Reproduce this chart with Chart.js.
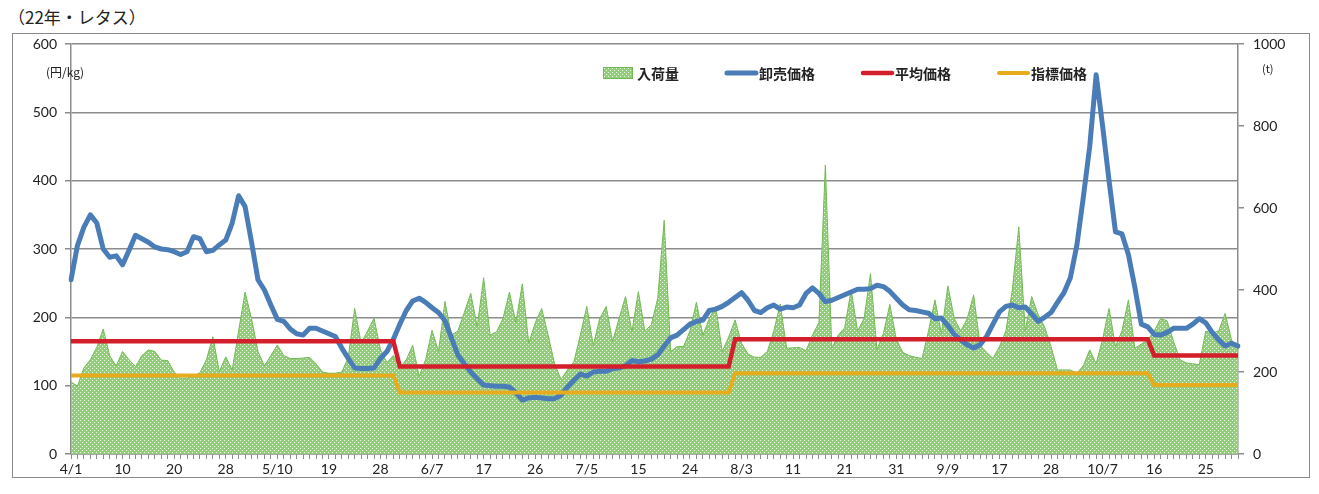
<!DOCTYPE html>
<html lang="ja">
<head>
<meta charset="utf-8">
<script src="https://cdn.jsdelivr.net/npm/chart.js@4.4.1/dist/chart.umd.min.js"></script>
<style>
  html, body { margin: 0; padding: 0; background: #fff; }
  #wrap { position: relative; width: 1319px; height: 494px; overflow: hidden; }
  #frame { position: absolute; left: 12px; top: 33px; width: 1296px; height: 443px; border: 1.5px solid #8a8a8a; }
  .lbl { position: absolute; font-family: "Noto Sans CJK JP", sans-serif; color: #222; white-space: nowrap; }
  #title { left: 8px; top: 4px; font-size: 17px; }
  #unitL { left: 46px; top: 63px; font-size: 12px; }
  #unitR { left: 1262px; top: 60px; font-size: 11px; }
  canvas { position: absolute; left: 0; top: 0; }
</style>
</head>
<body>
<div id="wrap">
  <div id="frame"></div>
  <div class="lbl" id="title">（22年・レタス）</div>
  <canvas id="chart" width="1319" height="494"></canvas>
  <div class="lbl" id="unitL">(円/kg)</div>
  <div class="lbl" id="unitR">(t)</div>
</div>
<script>
// tick labels, one every 8 market days
const tickLabels = ['4/1', '10', '20', '28', '5/10', '19', '28', '6/7', '17', '26', '7/5', '15',
    '24', '8/3', '11', '21', '31', '9/9', '17', '28', '10/7', '16', '25'];
const daysPerTick = 8;

// 入荷量 (t), right axis
const volume = [
    176, 165, 210, 230, 260, 305, 240, 215,
    250, 230, 213, 240, 254, 250, 229, 228,
    200, 185, 185, 190, 198, 230, 286, 201,
    237, 205, 300, 395, 330, 250, 215, 240,
    266, 240, 233, 233, 234, 236, 220, 200,
    197, 197, 200, 235, 355, 270, 300, 331,
    254, 223, 240, 210, 230, 265, 189, 230,
    302, 250, 372, 290, 300, 345, 392, 310,
    430, 290, 298, 330, 395, 320, 415, 270,
    320, 355, 290, 220, 182, 205, 225, 290,
    360, 265, 330, 360, 275, 330, 384, 298,
    396, 300, 315, 380, 570, 250, 262, 262,
    300, 370, 290, 330, 360, 250, 285, 327,
    270, 244, 236, 236, 250, 300, 366, 258,
    259, 260, 252, 290, 320, 705, 258, 290,
    308, 400, 300, 330, 440, 254, 294, 365,
    280, 248, 240, 236, 233, 300, 376, 294,
    410, 330, 300, 330, 388, 265, 248, 233,
    262, 300, 400, 554, 300, 384, 340, 310,
    262, 205, 205, 205, 197, 215, 254, 220,
    280, 355, 262, 300, 376, 258, 268, 278,
    300, 330, 325, 275, 230, 222, 220, 218,
    300, 295, 300, 343, 278, 254
];

// 卸売価格 (円/kg)
const wholesalePrice = [
    255, 305, 332, 350, 338, 300, 288, 290,
    277, 298, 320, 315, 310, 303, 300, 299,
    296, 292, 296, 318, 315, 296, 298, 306,
    313, 338, 378, 362, 310, 255, 240, 218,
    197, 194, 183, 176, 174, 184, 184, 180,
    176, 172, 155, 140, 126, 125, 125, 126,
    140, 150, 168, 190, 210, 224, 228, 222,
    214, 207, 195, 170, 145, 132, 120, 110,
    101, 100, 99, 99, 98, 90, 79, 82,
    83, 82, 81, 81, 86, 98, 108, 117,
    114, 120, 121, 121, 125, 126, 129, 137,
    135, 136, 139, 145, 158, 170, 174, 182,
    190, 194, 196, 210, 212, 216, 222, 229,
    236, 225, 210, 207, 214, 218, 212, 215,
    214, 218, 235, 243, 235, 223, 225, 229,
    233, 237, 241, 241, 242, 247, 245, 238,
    228, 218, 211, 210, 208, 206, 198, 199,
    188, 175, 167, 160, 155, 160, 172, 190,
    208, 216, 218, 214, 215, 205, 194, 200,
    207, 222, 236, 258, 305, 375, 450, 555,
    480, 400, 325, 322, 292, 244, 190, 186,
    175, 174, 178, 184, 184, 184, 190, 198,
    192, 178, 167, 158, 162, 158
];

// 平均価格 / 指標価格: value per period, period starts at the given day index
const periodStart = [0, 51, 103, 168];
const averagePrice = [165, 128, 168, 144];
const indexPrice = [115, 90, 118, 101];

const categories = volume.map((_, i) => i % daysPerTick === 0 ? tickLabels[i / daysPerTick] : '');

function expandPeriods(values) {
    return volume.map((_, i) => {
        let k = 0;
        while (k + 1 < periodStart.length && i >= periodStart[k + 1]) k++;
        return values[k];
    });
}

// dotted green fill like the printed chart
function makeDots() {
    const c = document.createElement('canvas');
    c.width = 4; c.height = 4;
    const g = c.getContext('2d');
    g.fillStyle = '#93cd7b';
    g.fillRect(0, 0, 4, 4);
    g.fillStyle = '#eef8e8';
    g.fillRect(0, 0, 1, 1);
    g.fillRect(2, 2, 1, 1);
    return g.createPattern(c, 'repeat');
}
const dots = makeDots();

const numFont = { family: 'Lato, "Noto Sans", sans-serif', size: 14 };
const gridGray = '#8c8c8c';

const insideLegend = {
    id: 'insideLegend',
    afterDraw(chart) {
        const ctx = chart.ctx;
        ctx.save();
        ctx.font = 'bold 14px "Noto Sans CJK JP", sans-serif';
        ctx.textBaseline = 'middle';
        let x = 603;
        const y = 73;
        chart.data.datasets.forEach(ds => {
            if (ds.fill) {
                ctx.fillStyle = ds.backgroundColor;
                ctx.fillRect(x, y - 6, 30, 12);
                ctx.strokeStyle = ds.borderColor;
                ctx.lineWidth = 1;
                ctx.strokeRect(x + 0.5, y - 5.5, 29, 11);
            } else {
                ctx.strokeStyle = ds.borderColor;
                ctx.lineWidth = ds.borderWidth;
                ctx.lineCap = 'round';
                ctx.beginPath();
                ctx.moveTo(x + 2, y);
                ctx.lineTo(x + 31, y);
                ctx.stroke();
            }
            ctx.fillStyle = '#222';
            ctx.fillText(ds.label, x + 34, y + 1);
            x += 34 + ctx.measureText(ds.label).width + 46;
        });
        ctx.restore();
    }
};

const ctx = document.getElementById('chart').getContext('2d');
new Chart(ctx, {
    type: 'line',
    data: {
        labels: categories,
        datasets: [
            {
                label: '入荷量',
                data: volume,
                yAxisID: 'y1',
                fill: 'origin',
                backgroundColor: dots,
                borderColor: '#74ba57',
                borderWidth: 1,
                pointRadius: 0,
                tension: 0,
                order: 4
            },
            {
                label: '卸売価格',
                data: wholesalePrice,
                yAxisID: 'y',
                borderColor: '#4a7db8',
                borderWidth: 5,
                borderJoinStyle: 'round',
                borderCapStyle: 'round',
                pointRadius: 0,
                tension: 0,
                fill: false,
                order: 3
            },
            {
                label: '平均価格',
                data: expandPeriods(averagePrice),
                yAxisID: 'y',
                borderColor: '#d21f2b',
                borderWidth: 4.5,
                pointRadius: 0,
                tension: 0,
                fill: false,
                order: 2
            },
            {
                label: '指標価格',
                data: expandPeriods(indexPrice),
                yAxisID: 'y',
                borderColor: '#e6ac1e',
                borderWidth: 4,
                pointRadius: 0,
                tension: 0,
                fill: false,
                order: 1
            }
        ]
    },
    options: {
        responsive: false,
        animation: false,
        layout: { padding: { top: 44, left: 0, right: 0, bottom: 0 } },
        plugins: {
            legend: { display: false },
            title: { display: false },
            tooltip: { enabled: false }
        },
        scales: {
            x: {
                type: 'category',
                offset: false,
                grid: { drawOnChartArea: false, drawTicks: true, tickLength: 5, color: gridGray, lineWidth: 1 },
                border: { display: true, color: gridGray, width: 1.5 },
                ticks: { autoSkip: false, maxRotation: 0, minRotation: 0, font: numFont, color: '#222', padding: 2 },
                afterFit(scale) { scale.height = 40; }
            },
            y: {
                position: 'left',
                min: 0,
                max: 600,
                ticks: { stepSize: 100, font: numFont, color: '#222', padding: 8 },
                grid: { color: gridGray, lineWidth: 1.5, tickLength: 6 },
                border: { display: true, color: gridGray, width: 1.5 },
                afterFit(scale) { scale.width = 71; }
            },
            y1: {
                position: 'right',
                min: 0,
                max: 1000,
                ticks: { stepSize: 200, font: numFont, color: '#222', padding: 9, callback: v => String(v) },
                grid: { drawOnChartArea: false, color: gridGray, lineWidth: 1.5, tickLength: 6 },
                border: { display: true, color: gridGray, width: 1.5 },
                afterFit(scale) { scale.width = 81; }
            }
        }
    },
    plugins: [insideLegend]
});
</script>
</body>
</html>
